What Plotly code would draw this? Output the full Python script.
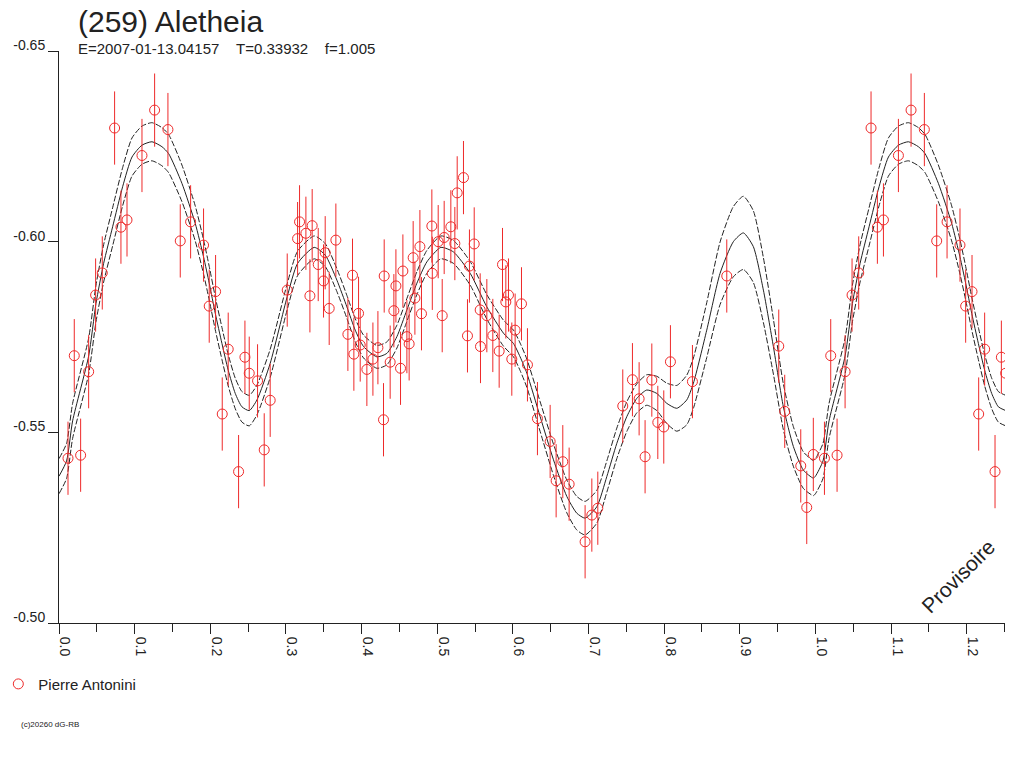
import plotly.graph_objects as go

phase = [0.0119, 0.0202, 0.0286, 0.0392, 0.0484, 0.0572, 0.0735, 0.0819, 0.0899, 0.1097,
         0.1264, 0.1440, 0.1603, 0.1740, 0.1911, 0.1986, 0.2070, 0.2158, 0.2237, 0.2374,
         0.2458, 0.2515, 0.2625, 0.2713, 0.2792, 0.3017, 0.3154, 0.3180, 0.3264, 0.3317,
         0.3347, 0.3427, 0.3497, 0.3519, 0.3572, 0.3660, 0.3819, 0.3880, 0.3898, 0.3960,
         0.3982, 0.4070, 0.4150, 0.4216, 0.4290, 0.4299, 0.4378, 0.4427, 0.4454, 0.4515,
         0.4546, 0.4599, 0.4629, 0.4682, 0.4705, 0.4771, 0.4792, 0.4929, 0.4935, 0.5013,
         0.5066, 0.5092, 0.5180, 0.5233, 0.5264, 0.5347, 0.5400, 0.5426, 0.5489, 0.5568,
         0.5572, 0.5656, 0.5735, 0.5819, 0.5863, 0.5907, 0.5942, 0.5986, 0.6030, 0.6114,
         0.6193, 0.6325, 0.6493, 0.6572, 0.6660, 0.6744, 0.6955, 0.7044, 0.7123, 0.7453,
         0.7581, 0.7669, 0.7748, 0.7837, 0.7916, 0.7995, 0.8083, 0.8374, 0.8828, 0.9515,
         0.9594, 0.9806, 0.9885, 0.9972]
mag = [-0.5432, -0.5701, -0.5440, -0.5659, -0.5860, -0.5918, -0.6298, -0.6038, -0.6057, -0.6226,
       -0.6345, -0.6294, -0.6002, -0.6052, -0.5991, -0.5831, -0.5869, -0.5548, -0.5718, -0.5397,
       -0.5697, -0.5655, -0.5635, -0.5454, -0.5584, -0.5873, -0.6008, -0.6052, -0.6022, -0.5858,
       -0.6042, -0.5940, -0.5897, -0.5971, -0.5825, -0.6004, -0.5757, -0.5912, -0.5705, -0.5812,
       -0.5729, -0.5665, -0.5692, -0.5722, -0.5533, -0.5910, -0.5684, -0.5819, -0.5884, -0.5668,
       -0.5923, -0.5751, -0.5732, -0.5958, -0.5852, -0.5987, -0.5811, -0.6041, -0.5917, -0.6000,
       -0.5806, -0.6011, -0.6039, -0.5995, -0.6128, -0.6168, -0.5753, -0.5936, -0.5994, -0.5821,
       -0.5725, -0.5806, -0.5754, -0.5713, -0.5940, -0.5842, -0.5860, -0.5692, -0.5768, -0.5837,
       -0.5677, -0.5536, -0.5476, -0.5373, -0.5423, -0.5364, -0.5213, -0.5283, -0.5301, -0.5569,
       -0.5638, -0.5588, -0.5436, -0.5637, -0.5526, -0.5514, -0.5685, -0.5633, -0.5910, -0.5726,
       -0.5555, -0.5412, -0.5303, -0.5442]
err = 0.0096

# fitted curve and its uncertainty band
fit_phase = [0.0000, 0.0100, 0.0180, 0.0392, 0.0489, 0.0590, 0.0709, 0.0841, 0.0965, 0.1097,
             0.1229, 0.1361, 0.1449, 0.1625, 0.1801, 0.1911, 0.1986, 0.2066, 0.2154, 0.2237,
             0.2330, 0.2418, 0.2515, 0.2617, 0.2792, 0.3017, 0.3154, 0.3374, 0.3519, 0.3674,
             0.3806, 0.3916, 0.4026, 0.4202, 0.4334, 0.4467, 0.4599, 0.4731, 0.4863, 0.5048,
             0.5215, 0.5436, 0.5656, 0.5876, 0.6008, 0.6096, 0.6185, 0.6361, 0.6537, 0.6713,
             0.6845, 0.6955, 0.7110, 0.7242, 0.7374, 0.7506, 0.7638, 0.7770, 0.7903, 0.8035,
             0.8167, 0.8299, 0.8387, 0.8563, 0.8739, 0.8915, 0.9047, 0.9179, 0.9312, 0.9444,
             0.9576, 0.9708, 0.9840, 0.9972]
fit_mag = [-0.5385, -0.5425, -0.5530, -0.5700, -0.5838, -0.5943, -0.6039, -0.6144, -0.6222, -0.6253,
           -0.6262, -0.6249, -0.6231, -0.6153, -0.6048, -0.5960, -0.5891, -0.5812, -0.5733, -0.5663,
           -0.5602, -0.5567, -0.5557, -0.5585, -0.5681, -0.5856, -0.5943, -0.5985, -0.5965, -0.5899,
           -0.5829, -0.5768, -0.5725, -0.5698, -0.5707, -0.5751, -0.5821, -0.5891, -0.5947, -0.5985,
           -0.5973, -0.5917, -0.5829, -0.5760, -0.5733, -0.5698, -0.5655, -0.5541, -0.5428, -0.5332,
           -0.5288, -0.5275, -0.5305, -0.5384, -0.5471, -0.5541, -0.5589, -0.5611, -0.5602, -0.5576,
           -0.5563, -0.5585, -0.5629, -0.5768, -0.5917, -0.6000, -0.6023, -0.5987, -0.5873, -0.5725,
           -0.5567, -0.5463, -0.5401, -0.5380]
fit_half = [0.0046, 0.0046, 0.0046, 0.0047, 0.0048, 0.0049, 0.0050, 0.0050, 0.0050, 0.0050,
            0.0050, 0.0050, 0.0050, 0.0048, 0.0046, 0.0045, 0.0044, 0.0043, 0.0042, 0.0041,
            0.0040, 0.0040, 0.0040, 0.0039, 0.0037, 0.0034, 0.0032, 0.0030, 0.0030, 0.0030,
            0.0030, 0.0030, 0.0030, 0.0030, 0.0030, 0.0030, 0.0030, 0.0030, 0.0030, 0.0030,
            0.0030, 0.0031, 0.0032, 0.0034, 0.0035, 0.0036, 0.0037, 0.0039, 0.0041, 0.0043,
            0.0044, 0.0044, 0.0043, 0.0041, 0.0040, 0.0039, 0.0038, 0.0040, 0.0045, 0.0053,
            0.0060, 0.0065, 0.0066, 0.0072, 0.0082, 0.0092, 0.0096, 0.0094, 0.0085, 0.0072,
            0.0060, 0.0052, 0.0048, 0.0046]

x_ticks = [0.0, 0.1, 0.2, 0.3, 0.4, 0.5, 0.6, 0.7, 0.8, 0.9, 1.0, 1.1, 1.2]
x_labels = ["0.0", "0.1", "0.2", "0.3", "0.4", "0.5", "0.6", "0.7", "0.8", "0.9", "1.0", "1.1", "1.2"]
y_ticks = [-0.65, -0.60, -0.55, -0.50]
y_labels = ["-0.65", "-0.60", "-0.55", "-0.50"]

title = "(259) Aletheia"
subtitle = "E=2007-01-13.04157\u00a0\u00a0\u00a0\u00a0T=0.33932\u00a0\u00a0\u00a0\u00a0f=1.005"
observer = "Pierre Antonini"

PHASE_MAX = 1.2506
REPEAT = 0.26  # phases below this are drawn again after 1.0

# the chart repeats the first quarter of the cycle past phase 1
px_ = phase + [p + 1 for p in phase if p < REPEAT]
py_ = mag + [m for p, m in zip(phase, mag) if p < REPEAT]
fx = fit_phase + [p + 1 for p in fit_phase if p < REPEAT]
fm = fit_mag + [m for p, m in zip(fit_phase, fit_mag) if p < REPEAT]
fh = fit_half + [h for p, h in zip(fit_phase, fit_half) if p < REPEAT]
f_hi = [m - h for m, h in zip(fm, fh)]
f_lo = [m + h for m, h in zip(fm, fh)]

red = "#ee2a2a"
ink = "#222222"
font = "Liberation Sans, Arial, sans-serif"

fig = go.Figure()
fig.add_trace(go.Scatter(x=fx, y=f_hi, mode="lines", showlegend=False, hoverinfo="skip",
                         line=dict(color=ink, width=1, dash="6px,2px", shape="spline", smoothing=0.6)))
fig.add_trace(go.Scatter(x=fx, y=f_lo, mode="lines", showlegend=False, hoverinfo="skip",
                         line=dict(color=ink, width=1, dash="6px,2px", shape="spline", smoothing=0.6)))
fig.add_trace(go.Scatter(x=fx, y=fm, mode="lines", showlegend=False, hoverinfo="skip",
                         line=dict(color=ink, width=1, shape="spline", smoothing=0.6)))
fig.add_trace(go.Scatter(x=px_, y=py_, mode="markers", name=observer,
                         marker=dict(symbol="circle-open", size=10, color=red, line=dict(width=1, color=red)),
                         error_y=dict(type="constant", value=err, color=red, thickness=1, width=0)))

# pixel -> paper helpers (plot area spans 58.7..1005 x 50.7..623.3)
L, R, T, B = 58.7, 1005.0, 50.7, 623.3
def paper_x(px):
    return (px - L) / (R - L)
def paper_y(py):
    return (B - py) / (B - T)

fig.update_layout(
    width=1024, height=768,
    margin=dict(l=L, r=1024 - R, t=T, b=768 - B, autoexpand=False),
    paper_bgcolor="white", plot_bgcolor="white",
    font=dict(family=font, color=ink, size=14),
    showlegend=True,
    legend=dict(x=paper_x(-2), y=paper_y(668), xanchor="left", yanchor="top",
                bgcolor="rgba(0,0,0,0)", font=dict(size=15, color=ink), itemwidth=30),
    xaxis=dict(range=[0, PHASE_MAX], tickmode="array", tickvals=x_ticks, ticktext=x_labels,
               tickangle=90, ticks="outside", ticklen=10, tickcolor=ink, showline=True,
               linecolor=ink, linewidth=1, showgrid=False, zeroline=False, ticklabelshift=6,
               tickfont=dict(size=14),
               minor=dict(tickmode="linear", tick0=0, dtick=0.05, ticks="outside", ticklen=8,
                          tickcolor=ink, showgrid=False)),
    yaxis=dict(range=[-0.50, -0.65], tickmode="array", tickvals=y_ticks, ticktext=y_labels,
               ticks="outside", ticklen=10, tickcolor=ink, showline=True, linecolor=ink,
               linewidth=1, showgrid=False, zeroline=False, ticklabelshift=6,
               tickfont=dict(size=14)),
)

fig.add_annotation(text=title, x=paper_x(76), y=paper_y(21), xref="paper", yref="paper",
                   xanchor="left", yanchor="middle", showarrow=False,
                   font=dict(size=30, color=ink))
fig.add_annotation(text=subtitle, x=paper_x(76), y=paper_y(48), xref="paper", yref="paper",
                   xanchor="left", yanchor="middle", showarrow=False,
                   font=dict(size=15, color=ink))
fig.add_annotation(text="Provisoire", x=paper_x(958), y=paper_y(577), xref="paper", yref="paper",
                   xanchor="center", yanchor="middle",
                   textangle=-45, showarrow=False, font=dict(size=21, color=ink))
fig.add_annotation(text="(c)20260 dG-RB", x=paper_x(19), y=paper_y(725), xref="paper", yref="paper",
                   xanchor="left", yanchor="middle", showarrow=False,
                   font=dict(size=8, color=ink))

# the page's default body margin would shift the whole figure by 8px
fig.write_html("out.html", config={"displayModeBar": False},
               post_script="document.body.style.margin='0';")
